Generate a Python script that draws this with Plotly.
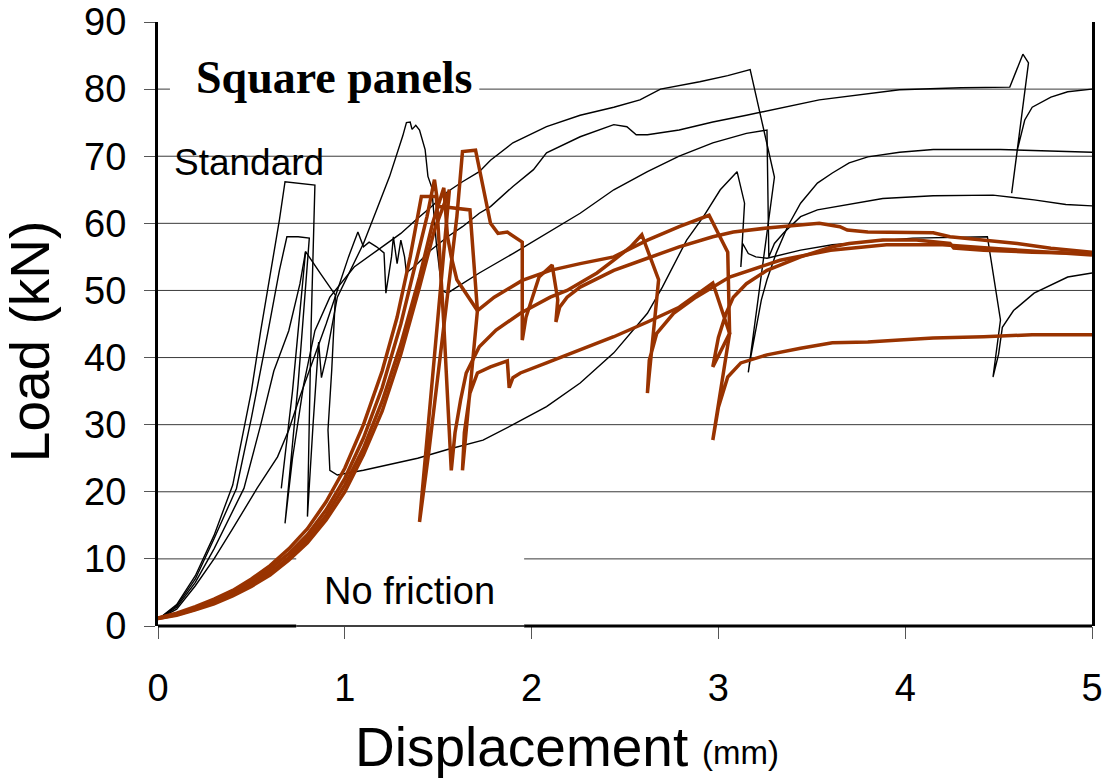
import plotly.graph_objects as go

# ---------------- data (displacement mm, load kN) ----------------
X_TICKS = [0, 1, 2, 3, 4, 5]
Y_TICKS = [0, 10, 20, 30, 40, 50, 60, 70, 80, 90]
GRID_Y = [10, 20, 30, 40, 50, 60, 70, 80]

# "Standard" tests (black, thin)
black_1 = [(0, 1), (0.1, 3.2), (0.2, 7.5), (0.3, 13.5), (0.4, 21), (0.5, 35), (0.55, 44), (0.6, 52),
           (0.65, 60.5), (0.68, 66.2), (0.76, 66), (0.84, 65.7), (0.82, 45), (0.80, 16.3), (0.83, 30),
           (0.86, 42.3), (0.875, 37), (0.9, 40), (0.96, 49), (1.03, 53), (1.1, 57), (1.17, 62), (1.24, 67),
           (1.31, 73), (1.33, 75), (1.35, 75.1), (1.36, 74), (1.38, 74.6), (1.40, 73.9), (1.43, 71),
           (1.445, 67), (1.465, 65.4), (1.49, 57), (1.52, 50), (1.55, 49.6), (1.6, 50.5), (1.72, 52.6),
           (1.9, 55.5), (2.08, 58.5), (2.26, 61.5), (2.44, 65), (2.62, 67.7), (2.79, 70), (2.97, 72),
           (3.15, 73.4), (3.26, 73.9), (3.27, 55), (3.3, 57), (3.35, 58.6), (3.44, 61), (3.53, 62),
           (3.61, 62.4), (3.72, 63), (3.88, 63.7), (4.15, 64.1), (4.47, 64.2), (4.69, 63.5), (4.86, 62.8),
           (5, 62.6)]
black_2 = [(0, 1), (0.1, 3), (0.2, 7), (0.3, 13), (0.42, 20.5), (0.5, 31), (0.59, 44), (0.65, 53),
           (0.69, 58), (0.75, 58), (0.81, 57.8), (0.75, 36), (0.68, 15.3), (0.72, 25), (0.78, 36),
           (0.84, 44), (0.92, 49), (1.05, 53.5), (1.2, 56.5), (1.3, 58.5), (1.38, 60.5), (1.46, 62.4),
           (1.55, 64.7), (1.63, 66.2), (1.72, 67.7), (1.78, 69.4), (1.9, 72), (2.08, 74.4), (2.26, 76.1),
           (2.44, 77.3), (2.58, 78.4), (2.69, 80), (2.9, 81.1), (3.05, 82), (3.17, 82.9), (3.30, 66.9),
           (3.16, 37.8), (3.17, 39.6), (3.2, 44.1), (3.23, 48.6), (3.26, 51.6), (3.31, 55.6), (3.37, 59.5),
           (3.44, 63), (3.53, 66), (3.61, 67.5), (3.7, 69), (3.8, 69.9), (3.97, 70.6), (4.15, 71),
           (4.51, 71), (5, 70.6)]
black_3 = [(0, 1), (0.1, 2.8), (0.2, 6.5), (0.3, 11.5), (0.46, 20.5), (0.55, 30), (0.62, 38), (0.70, 44),
           (0.76, 51), (0.79, 55.8), (0.87, 52.5), (0.95, 49.3), (0.93, 38.1), (0.91, 29.2), (0.92, 23.2),
           (0.96, 22.5), (1.1, 23.2), (1.39, 25), (1.55, 26.3), (1.74, 27.7), (1.9, 30), (2.08, 32.7),
           (2.26, 36.2), (2.44, 40.7), (2.62, 46.6), (2.70, 50.5), (2.83, 57.5), (2.92, 61), (3.01, 65),
           (3.10, 67.7), (3.14, 63), (3.12, 53.5), (3.13, 57), (3.16, 55.5), (3.2, 55), (3.26, 54.8),
           (3.44, 56), (3.61, 56.8), (3.8, 57.2), (4.04, 57.8), (4.44, 58), (4.51, 45.6), (4.47, 37.1),
           (4.50, 40.5), (4.52, 44.5), (4.58, 47), (4.69, 49.6), (4.87, 52), (5, 52.6)]
black_3_unload = [(0.79, 55.8), (0.72, 35), (0.66, 20.5)]
black_4 = [(0, 1), (0.1, 2.5), (0.2, 6), (0.3, 10), (0.4, 14.5), (0.53, 20.5), (0.64, 25.2), (0.70, 29.2),
           (0.76, 34.2), (0.85, 41), (0.9, 45), (0.96, 50), (1.02, 55), (1.07, 58.7), (1.1, 56.5),
           (1.13, 57.2), (1.17, 56.5), (1.21, 55.6), (1.22, 49.6), (1.25, 55), (1.26, 58), (1.28, 54),
           (1.30, 57.5), (1.32, 55), (1.33, 52.6), (1.39, 54), (1.46, 56), (1.55, 58), (1.63, 59.5),
           (1.72, 61.5), (1.78, 62.5), (1.9, 65.5), (2.01, 68), (2.08, 70.5), (2.26, 72.9), (2.44, 74.7),
           (2.51, 74.4), (2.56, 73.2), (2.62, 73.2), (2.79, 73.9), (2.97, 75.1), (3.15, 76.1), (3.33, 77.2),
           (3.54, 78.4), (3.97, 79.9), (4.3, 80.2), (4.56, 80.3), (4.63, 85.2), (4.66, 83.9), (4.57, 64.5),
           (4.58, 66.5), (4.6, 70.9), (4.64, 75.4), (4.68, 77.3), (4.78, 78.8), (4.87, 79.6), (5, 80)]

# "No friction" tests (brown, thick)
brown_1 = [(0, 1.2), (0.1, 1.9), (0.2, 2.9), (0.3, 4.0), (0.4, 5.3), (0.5, 7.0), (0.6, 9.0), (0.7, 11.5),
           (0.8, 14.5), (0.9, 18.5), (1.0, 23.5), (1.1, 30), (1.2, 38), (1.28, 46), (1.35, 55), (1.41, 64),
           (1.49, 64), (1.53, 45), (1.57, 23.2), (1.59, 28.8), (1.62, 33.7), (1.65, 37.7), (1.72, 41.6),
           (1.81, 44.1), (1.94, 46.6), (2.1, 49), (2.19, 50), (2.35, 52.6), (2.44, 54.5), (2.53, 56.5),
           (2.59, 58.3), (2.68, 51.6), (2.62, 34.7), (2.63, 39.6), (2.67, 43.6), (2.76, 46.6), (2.88, 49),
           (3.06, 52), (3.33, 54.5), (3.6, 56), (3.9, 56.8), (4.2, 56.8), (4.5, 56.2), (4.8, 55.6), (5, 55.3)]
brown_2 = [(0, 1.2), (0.1, 1.8), (0.2, 2.7), (0.3, 3.8), (0.4, 5.0), (0.5, 6.6), (0.6, 8.5), (0.7, 10.8),
           (0.8, 13.6), (0.9, 17.3), (1.0, 22), (1.1, 28), (1.2, 35.5), (1.3, 45), (1.38, 54), (1.44, 61),
           (1.48, 66.5), (1.50, 62.5), (1.55, 62.4), (1.67, 62), (1.71, 47), (1.63, 23.2), (1.64, 28.8),
           (1.67, 34.7), (1.71, 37.7), (1.78, 38.6), (1.87, 39.5), (1.88, 35.5), (1.9, 37), (1.94, 37.7),
           (2.08, 39.2), (2.26, 41.1), (2.44, 43.1), (2.62, 45.3), (2.79, 47.5), (2.9, 49.7), (2.97, 51.1),
           (3.06, 43.6), (2.97, 38.6), (3.0, 43), (3.04, 46.5), (3.08, 49), (3.15, 51), (3.26, 53),
           (3.44, 55), (3.61, 56.5), (3.7, 57), (3.88, 57.5), (4.06, 57.5), (4.24, 57), (4.26, 56.3),
           (4.42, 56), (4.68, 55.7), (5, 55.5)]
brown_3 = [(0, 1.1), (0.1, 1.7), (0.2, 2.5), (0.3, 3.5), (0.4, 4.7), (0.5, 6.2), (0.6, 8), (0.7, 10.2),
           (0.8, 13), (0.9, 16.5), (1.0, 21), (1.1, 26.5), (1.2, 33.5), (1.3, 42), (1.4, 52), (1.47, 60),
           (1.53, 65.3), (1.55, 58), (1.57, 55), (1.60, 51.6), (1.71, 47), (1.8, 49), (1.95, 51.5),
           (2.1, 53), (2.26, 54), (2.44, 55), (2.62, 57.5), (2.79, 59.5), (2.95, 61.2), (3.05, 55.7),
           (3.06, 43.6), (2.97, 27.7), (3.0, 32.6), (3.05, 37.1), (3.12, 39.2), (3.26, 40.4), (3.44, 41.4),
           (3.61, 42.2), (3.8, 42.3), (3.97, 42.6), (4.15, 42.9), (4.42, 43.1), (4.68, 43.4), (5, 43.4)]
brown_4 = [(0, 1.1), (0.1, 1.6), (0.2, 2.4), (0.3, 3.3), (0.4, 4.5), (0.5, 5.9), (0.6, 7.6), (0.7, 9.8),
           (0.8, 12.4), (0.9, 15.8), (1.0, 20), (1.1, 25.5), (1.2, 32), (1.3, 40.5), (1.4, 50.5), (1.48, 59),
           (1.56, 65), (1.40, 15.5), (1.45, 26), (1.5, 37.5), (1.55, 49), (1.6, 61), (1.63, 70.7),
           (1.70, 70.9), (1.78, 60), (1.82, 58.5), (1.87, 58.7), (1.95, 57.2), (1.95, 42.6), (1.97, 46),
           (2.04, 52), (2.11, 53.8), (2.14, 48.6), (2.13, 45.3), (2.15, 47.5), (2.19, 49), (2.26, 50.5),
           (2.44, 53), (2.62, 54.8), (2.79, 56.5), (2.97, 58), (3.08, 58.7), (3.26, 59.3), (3.44, 59.8),
           (3.54, 60), (3.65, 59.5), (3.69, 59), (3.8, 58.7), (3.97, 58.7), (4.15, 58.6), (4.24, 58),
           (4.42, 57.5), (4.6, 57), (4.78, 56.3), (5, 55.7)]

BLACK_CURVES = [black_1, black_2, black_3, black_3_unload, black_4]
BROWN_CURVES = [brown_1, brown_2, brown_3, brown_4]

BLACK = "#000000"
BROWN = "#993300"
FONT = "Liberation Sans, Arial, sans-serif"

fig = go.Figure()
for c in BLACK_CURVES:
    fig.add_trace(go.Scatter(x=[p[0] for p in c], y=[p[1] for p in c], mode="lines",
                             line=dict(color=BLACK, width=1.4), showlegend=False, hoverinfo="skip"))
for c in BROWN_CURVES:
    fig.add_trace(go.Scatter(x=[p[0] for p in c], y=[p[1] for p in c], mode="lines",
                             line=dict(color=BROWN, width=3.5), showlegend=False, hoverinfo="skip"))

shapes = []
for g in GRID_Y:
    shapes.append(dict(type="line", xref="x", yref="y", x0=0, x1=5, y0=g, y1=g,
                       line=dict(color="#3a3a3a", width=1), layer="below"))
# white label boxes
shapes.append(dict(type="rect", xref="x", yref="y", x0=0.064, x1=1.72, y0=76.9, y1=86.6,
                   fillcolor="white", line=dict(width=0), layer="below"))
shapes.append(dict(type="rect", xref="x", yref="y", x0=0.74, x1=1.96, y0=0.3, y1=11.2,
                   fillcolor="white", line=dict(width=0), layer="below"))
# bottom axis line (thinner under the label box)
shapes.append(dict(type="line", xref="paper", yref="paper", x0=0, x1=0.148, y0=0, y1=0,
                   line=dict(color="black", width=3), layer="above"))
shapes.append(dict(type="line", xref="paper", yref="paper", x0=0.148, x1=0.392, y0=0, y1=0,
                   line=dict(color="black", width=1.3), layer="above"))
shapes.append(dict(type="line", xref="paper", yref="paper", x0=0.392, x1=1, y0=0, y1=0,
                   line=dict(color="black", width=3), layer="above"))

annotations = [
    dict(text="<b>Square panels</b>", x=0.1895, y=0.9076, xref="paper", yref="paper",
         showarrow=False, xanchor="center", yanchor="middle",
         font=dict(family="Liberation Serif, Times New Roman, serif", size=46, color="black")),
    dict(text="Standard", x=0.0974, y=0.768, xref="paper", yref="paper", showarrow=False,
         xanchor="center", yanchor="middle", font=dict(family=FONT, size=37, color="black")),
    dict(text="No friction", x=0.2698, y=0.058, xref="paper", yref="paper", showarrow=False,
         xanchor="center", yanchor="middle", font=dict(family=FONT, size=38, color="black")),
    dict(text="Displacement", x=0.3887, y=-0.2003, xref="paper", yref="paper", showarrow=False,
         xanchor="center", yanchor="middle", font=dict(family=FONT, size=55, color="black")),
    dict(text="(mm)", x=0.624, y=-0.210, xref="paper", yref="paper", showarrow=False,
         xanchor="center", yanchor="middle", font=dict(family=FONT, size=33, color="black")),
    dict(text="Load (kN)", x=-0.137, y=0.47, xref="paper", yref="paper", showarrow=False,
         textangle=-90, xanchor="center", yanchor="middle",
         font=dict(family=FONT, size=55, color="black")),
]

fig.update_layout(
    width=1107, height=778,
    margin=dict(l=158, r=15, t=22, b=152, autoexpand=False),
    plot_bgcolor="white", paper_bgcolor="white",
    shapes=shapes, annotations=annotations,
    xaxis=dict(range=[0, 5], tickvals=X_TICKS, ticks="outside", ticklen=12, tickwidth=1,
               tickcolor="#555555", showgrid=False, zeroline=False, showline=False, automargin=False,
               tickfont=dict(family=FONT, size=38, color="black"), ticklabelstandoff=16),
    yaxis=dict(range=[0, 90], tickvals=Y_TICKS, ticks="outside", ticklen=11, tickwidth=1,
               tickcolor="#555555", showgrid=False, zeroline=False, showline=True, automargin=False,
               linecolor="black", linewidth=3, mirror=True,
               tickfont=dict(family=FONT, size=38, color="black"), ticklabelstandoff=10),
)

fig.write_html("out.html")
